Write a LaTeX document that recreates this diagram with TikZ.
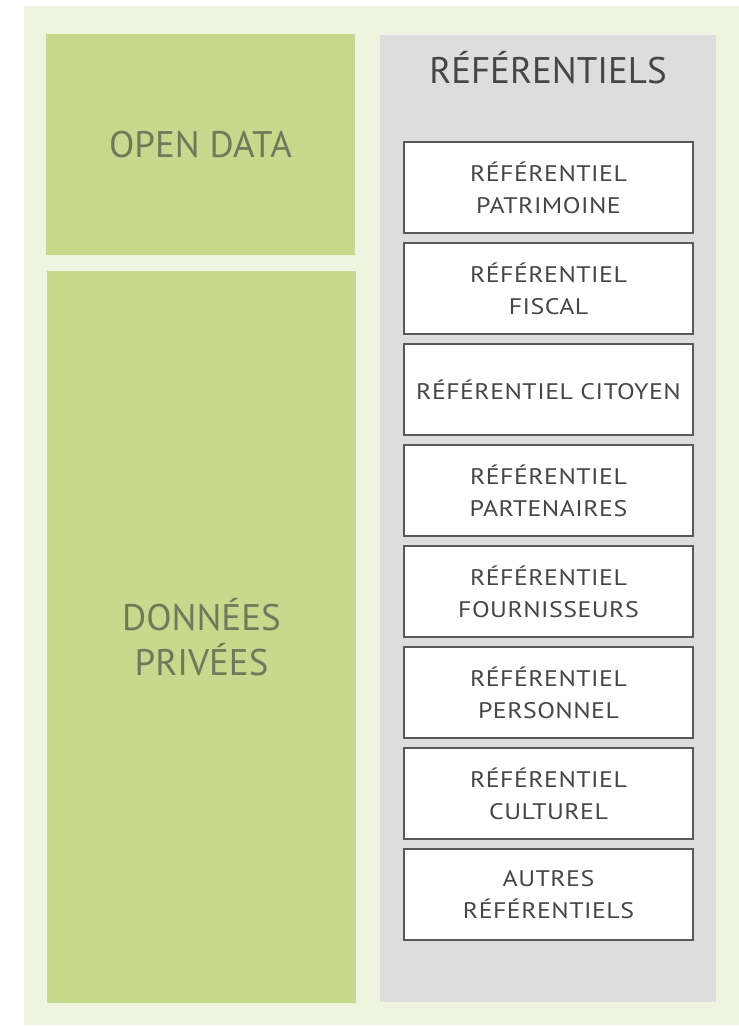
\documentclass[tikz,border=0pt]{standalone}
\usepackage{fontspec}
\setmainfont{PT Sans}
\newfontfamily\boite[FakeStretch=1.15, LetterSpace=2]{PT Sans}
\usetikzlibrary{positioning}
\definecolor{fond}{RGB}{239,244,225}
\definecolor{vert}{RGB}{198,217,141}
\definecolor{olive}{RGB}{112,122,90}
\definecolor{gris}{RGB}{221,221,221}
\definecolor{encre}{RGB}{89,89,89}
\definecolor{lettre}{RGB}{70,70,70}
\begin{document}
\begin{tikzpicture}[x=1pt, y=-1pt, node distance=10pt,
      every node/.append style={inner sep=0pt, outer sep=0pt, align=center}]
    \tikzstyle{bloc} = [fill=vert, text=olive, minimum width=309pt, font=\fontsize{37}{45}\selectfont]
    \tikzstyle{ref} = [draw=encre, line width=1.5pt, fill=white, text=lettre,
      minimum width=289pt, minimum height=91pt, font=\boite\fontsize{22.5}{32}\selectfont]
    \useasboundingbox (0,0) rectangle (739,1026);
    \fill [fond] (24,6) rectangle (739,1025);
    \node [bloc, minimum height=221pt] (open) at (200.5,144.5) {OPEN DATA};
    \node [bloc, minimum height=732pt] (prive) at (201.5,637) {DONNÉES\\PRIVÉES};
    \node [fill=gris, minimum width=336pt, minimum height=967pt] (refs) at (548,518.5) {};
    \node [text=lettre, font=\fontsize{37}{44}\selectfont] (titre) at (548,68) {RÉFÉRENTIELS};
    \node [ref] (patrimoine) at (548.5,187.5) {RÉFÉRENTIEL\\PATRIMOINE};
    \node [ref, below=of patrimoine] (fiscal) {RÉFÉRENTIEL\\FISCAL};
    \node [ref, below=of fiscal] (citoyen) {RÉFÉRENTIEL CITOYEN};
    \node [ref, below=of citoyen] (partenaires) {RÉFÉRENTIEL\\PARTENAIRES};
    \node [ref, below=of partenaires] (fournisseurs) {RÉFÉRENTIEL\\FOURNISSEURS};
    \node [ref, below=of fournisseurs] (personnel) {RÉFÉRENTIEL\\PERSONNEL};
    \node [ref, below=of personnel] (culturel) {RÉFÉRENTIEL\\CULTUREL};
    \node [ref, below=of culturel] (autres) {AUTRES\\RÉFÉRENTIELS};
\end{tikzpicture}
\end{document}
